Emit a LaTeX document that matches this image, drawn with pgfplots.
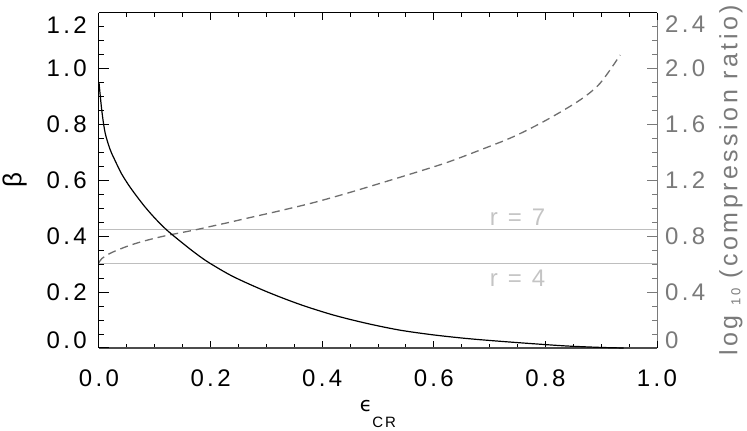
\documentclass[border=0pt]{standalone}
\usepackage{fontspec}
\setmainfont{Liberation Sans}[LetterSpace=14]
\newfontfamily\dvsans{DejaVu Sans}
\usepackage{pgfplots}
\pgfplotsset{compat=1.18}

\definecolor{RightGray}{HTML}{7A7A7A}
\definecolor{DashGray}{HTML}{6E6E6E}
\definecolor{LineGray}{HTML}{BEBEBE}
\definecolor{TextGray}{HTML}{C4C4C4}

\newcommand{\tickfont}{\fontsize{24}{26}\selectfont}

\pgfplotsset{common/.style={
  scale only axis,width=558pt,height=335.3pt,
  xmin=0,xmax=1,
  tick align=inside,
  tick label style={font=\tickfont},
  clip=false
}}

\begin{document}
\begin{tikzpicture}
\useasboundingbox (-99pt,-83pt) rectangle (648pt,348pt);

% right axis: log10 of compression ratio
\begin{axis}[common,
  ymin=0,ymax=2.4,
  axis x line=none,axis y line*=right,
  ytick={0,0.4,0.8,1.2,1.6,2.0,2.4},
  yticklabels={\raisebox{8pt}[\height][0pt]{0},0.4,0.8,1.2,1.6,2.0,\raisebox{-11pt}[\height][0pt]{2.4}},
  minor y tick num=3,
  major tick length=10pt,minor tick length=5pt,
  y axis line style={RightGray,line width=1pt},
  ytick style={RightGray,line width=1pt},
  yticklabel style={RightGray,anchor=west,inner sep=0pt,xshift=8pt},
  ylabel={log {\fontsize{13}{13}\selectfont\raisebox{-3pt}{10}} (compression ratio)},
  ylabel style={RightGray,font=\fontsize{25}{27}\selectfont,inner sep=0pt,
    at={([xshift=62pt]axis description cs:1,0.5)},anchor=north}
]
\addplot[LineGray,line width=1pt] coordinates {(0,0.845)(1,0.845)};
\addplot[LineGray,line width=1pt] coordinates {(0,0.602)(1,0.602)};
\node[TextGray,font=\tickfont,anchor=west,inner sep=0pt] at (axis cs:0.70,0.938) {r = 7};
\node[TextGray,font=\tickfont,anchor=west,inner sep=0pt] at (axis cs:0.70,0.501) {r = 4};
\addplot[DashGray,line width=1.3pt,dash pattern=on 8pt off 5pt,smooth] coordinates {
  (0,0.61)(0.005,0.64)(0.0227,0.683)(0.0526,0.731)(0.08,0.765)(0.112,0.797)
  (0.14,0.82)(0.172,0.845)(0.2,0.87)(0.232,0.898)(0.26,0.924)(0.291,0.952)
  (0.324,0.982)(0.384,1.040)(0.444,1.107)(0.504,1.179)(0.563,1.251)
  (0.623,1.327)(0.683,1.417)(0.743,1.513)(0.802,1.632)(0.862,1.775)
  (0.898,1.895)(0.934,2.097)};
\end{axis}

% x axis and beta curve
\begin{axis}[common,
  ymin=0,ymax=1.2,
  axis x line=box,axis y line=none,
  xtick={0,0.2,0.4,0.6,0.8,1.0},
  xticklabels={0.0,0.2,0.4,0.6,0.8,1.0},
  minor x tick num=3,
  major tick length=7pt,minor tick length=4pt,
  x axis line style={black,line width=1pt},
  xtick style={black,line width=1pt},
  xticklabel style={anchor=north,inner sep=0pt,yshift=-22pt},
  xlabel={{\dvsans\fontsize{20}{22}\selectfont ϵ}\raisebox{-16pt}{\fontsize{15}{15}\selectfont CR}},
  xlabel style={at={(axis description cs:0.5,0)},anchor=north,inner sep=0pt,yshift=-52pt}
]
\draw[black!70,line width=1.6pt] (rel axis cs:0,0) -- (rel axis cs:1,0);
\addplot[black,line width=1.2pt,smooth] coordinates {
  (0,0.95)(0.005,0.85)(0.011,0.77)(0.02,0.71)(0.029,0.67)(0.04,0.625)
  (0.0525,0.585)(0.065,0.55)(0.082,0.506)(0.10,0.465)(0.121,0.423)(0.15,0.375)
  (0.175,0.336)(0.199,0.303)(0.241,0.255)(0.30,0.202)(0.36,0.156)(0.42,0.118)
  (0.48,0.088)(0.539,0.064)(0.599,0.047)(0.659,0.034)(0.719,0.024)
  (0.78,0.015)(0.84,0.007)(0.90,0.002)(0.94,0.0)};
\end{axis}

% left axis: beta
\begin{axis}[common,
  ymin=0,ymax=1.2,
  axis x line=none,axis y line*=left,
  ytick={0,0.2,0.4,0.6,0.8,1.0,1.2},
  yticklabels={\raisebox{8pt}[\height][0pt]{0.0},0.2,0.4,0.6,0.8,1.0,\raisebox{-12pt}[\height][0pt]{1.2}},
  minor y tick num=3,
  major tick length=10pt,minor tick length=5pt,
  y axis line style={black,line width=1pt},
  ytick style={black,line width=1pt},
  yticklabel style={anchor=east,inner sep=0pt,xshift=-12pt},
  ylabel={β},
  ylabel style={font=\fontsize{26}{28}\selectfont,inner sep=0pt,
    at={([xshift=-72pt]axis description cs:0,0.5)},anchor=south}
]
\end{axis}
\end{tikzpicture}
\end{document}
